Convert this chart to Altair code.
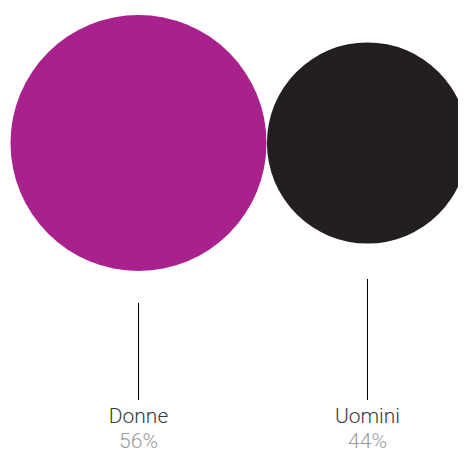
import altair as alt
import pandas as pd

categories = ["Donne", "Uomini"]
values = [56, 44]
labels = ["56%", "44%"]
colors = ["#A8218C", "#231F20"]

df = pd.DataFrame({"cat": categories, "value": values, "label": labels})

x = alt.X("cat:N", scale=alt.Scale(type="point", domain=categories, range=[130.5, 359.5], padding=0), axis=None)

circles = alt.Chart(df).mark_circle(opacity=1, strokeWidth=0).encode(
    x=x,
    y=alt.value(135),
    size=alt.Size("value:Q", scale=alt.Scale(type="pow", exponent=2, domain=[0, 56], range=[0, 65536]), legend=None),
    color=alt.Color("cat:N", scale=alt.Scale(domain=categories, range=colors), legend=None),
)

rules = alt.Chart(df).mark_rule(color="#000000", strokeWidth=1).encode(
    x=x,
    y=alt.Y("value:Q", scale=alt.Scale(domain=[0, 56], range=[183, 295]), axis=None),
    y2=alt.value(392),
)

names = alt.Chart(df).mark_text(font="Roboto", fontWeight=300, fontSize=21, color="#3a3a3a",
                                align="center", baseline="alphabetic").encode(
    x=x, y=alt.value(415), text="cat:N")

pcts = alt.Chart(df).mark_text(font="Roboto", fontWeight=300, fontSize=21, color="#9a9a9a",
                               align="center", baseline="alphabetic").encode(
    x=x, y=alt.value(440), text="label:N")

chart = alt.layer(circles, rules, names, pcts).properties(
    width=450, height=445, autosize=alt.AutoSizeParams(type="none"), padding=0
).configure_view(stroke=None)

chart.save("out.html", embed_options={"renderer": "svg", "actions": False})
